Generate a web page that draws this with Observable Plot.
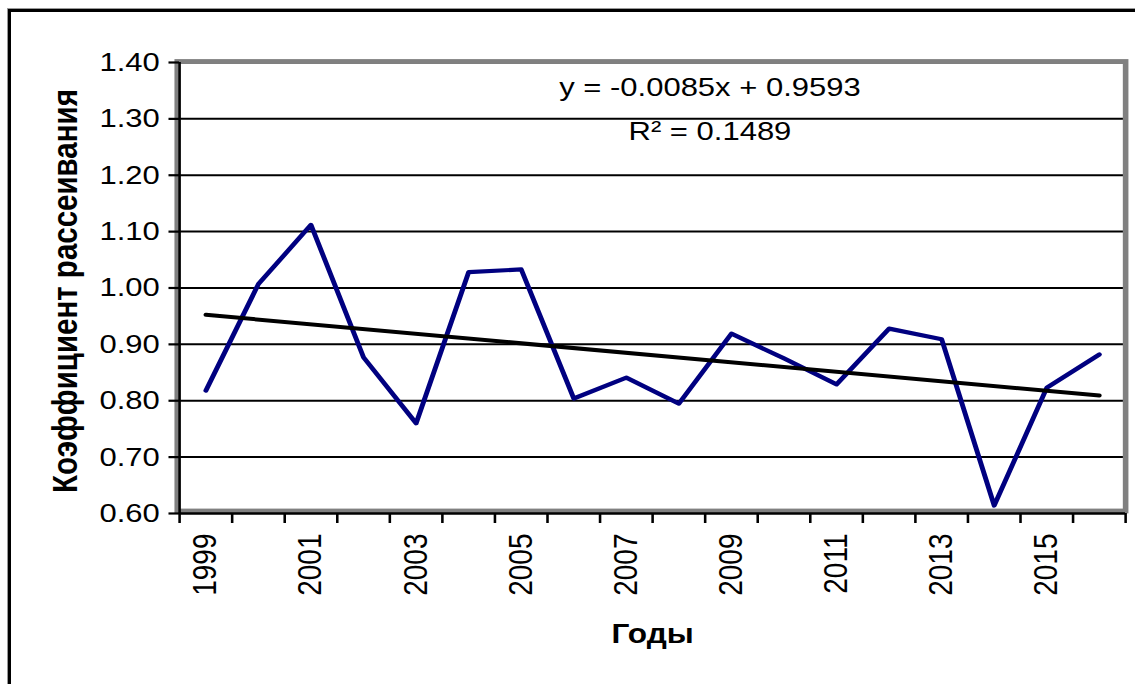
<!DOCTYPE html>
<html>
<head>
<meta charset="utf-8">
<script src="https://cdn.jsdelivr.net/npm/d3@7"></script>
<script src="https://cdn.jsdelivr.net/npm/@observablehq/plot@0.6"></script>
<style>
  html, body { margin: 0; padding: 0; background: #fff; overflow: hidden; width: 1135px; height: 684px; }
  #outer { position: absolute; left: 8px; top: 9px; width: 1300px; height: 900px; border: 3px solid #000; box-shadow: -1px -1px 0 #999; }
  #chart { position: absolute; left: 0; top: 0; transform-origin: 0 0; }
</style>
</head>
<body>
<div id="outer"></div>
<div id="chart"></div>
<script>
const years = [1999, 2000, 2001, 2002, 2003, 2004, 2005, 2006, 2007, 2008, 2009, 2010, 2011, 2012, 2013, 2014, 2015, 2016];
const values = [0.818, 1.007, 1.112, 0.877, 0.760, 1.028, 1.033, 0.804, 0.841, 0.795, 0.919, 0.875, 0.829, 0.928, 0.909, 0.614, 0.823, 0.882];
const yTicks = [0.6, 0.7, 0.8, 0.9, 1.0, 1.1, 1.2, 1.3, 1.4];
const labelYears = [1999, 2001, 2003, 2005, 2007, 2009, 2011, 2013, 2015];
const eqText = "y = -0.0085x + 0.9593";
const r2Text = "R² = 0.1489";
const yTitle = "Коэффициент рассеивания";
const xTitle = "Годы";

const data = years.map((year, i) => ({year, value: values[i]}));
const boundaries = [years[0] - 0.5, ...years.map(y => y + 0.5)];

const S = 1.17; // horizontal stretch of the original picture
const W = 1135 / S;

const chart = Plot.plot({
  width: W,
  height: 684,
  marginLeft: 153,
  marginRight: 8.5,
  marginTop: 62,
  marginBottom: 171,
  style: {fontFamily: "'Liberation Sans', Arial, sans-serif", fontSize: "26px", background: "transparent", overflow: "visible"},
  x: {domain: [years[0] - 0.5, years[years.length - 1] + 0.5], label: null},
  y: {domain: [0.6, 1.4], label: null},
  marks: [
    Plot.ruleY(yTicks.slice(1), {stroke: "#000", strokeWidth: 2}),
    Plot.frame({stroke: "#808080", strokeWidth: 4.8, insetTop: -1, insetRight: 0, insetLeft: -2, insetBottom: 2.5}),
    Plot.ruleX([years[0] - 0.5], {stroke: "#000", strokeWidth: 2.2}),
    Plot.ruleY([0.6], {stroke: "#000", strokeWidth: 2.5}),
    Plot.line(data, {x: "year", y: "value", stroke: "#000080", strokeWidth: 4.2}),
    Plot.linearRegressionY(data, {x: "year", y: "value", ci: 0, stroke: "#000", strokeWidth: 4}),
    Plot.axisY({ticks: yTicks, tickFormat: d => d.toFixed(2), tickSize: 9, tickPadding: 8, fontSize: 26.5, stroke: "#000", strokeWidth: 2.2, label: null}),
    Plot.axisX({ticks: boundaries, tickFormat: () => "", tickSize: 10, stroke: "#000", strokeWidth: 2.2, label: null}),
    Plot.axisX({ticks: labelYears, tickFormat: d => String(d), tickSize: 0, tickPadding: 20, tickRotate: -90, fontSize: 28, label: null}),
    Plot.text([eqText], {frameAnchor: "top", dx: 49, dy: 34, lineAnchor: "bottom", fontSize: 26.5, fill: "#000"}),
    Plot.text([r2Text], {frameAnchor: "top", dx: 49, dy: 78, lineAnchor: "bottom", fontSize: 26.5, fill: "#000"}),
    Plot.text([yTitle], {frameAnchor: "left", dx: -97, dy: 3, rotate: -90, lineAnchor: "middle", textAnchor: "middle", fontSize: 29.5, fontWeight: "bold", fill: "#000"}),
    Plot.text([xTitle], {frameAnchor: "bottom", dy: 121, lineAnchor: "middle", textAnchor: "middle", fontSize: 27, fontWeight: "bold", fill: "#000"})
  ]
});
const holder = document.getElementById("chart");
holder.style.transform = `scaleX(${S})`;
holder.appendChild(chart);
</script>
</body>
</html>
